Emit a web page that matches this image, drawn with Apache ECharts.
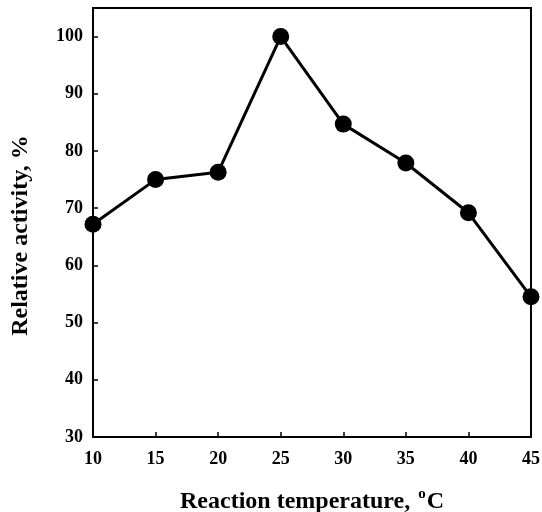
<!DOCTYPE html>
<html>
<head>
<meta charset="utf-8">
<script src="https://cdn.jsdelivr.net/npm/echarts@6/dist/echarts.min.js"></script>
<style>
  html, body { margin: 0; padding: 0; background: #fff; }
  #chart { width: 542px; height: 512px; }
</style>
</head>
<body>
<div id="chart"></div>
<script>
  // reaction temperature (°C) and relative activity (%)
  const temps = [10, 15, 20, 25, 30, 35, 40, 45]
  const activity = [67.2, 75.0, 76.3, 100, 84.7, 77.9, 69.2, 54.5]

  const font = 'Liberation Serif'
  const mychart = echarts.init(document.getElementById('chart'))

  mychart.setOption({
    animation: false,
    grid: {
      left: 93,
      right: 11,
      top: 8,
      bottom: 75,
      outerBoundsMode: 'none',
      containLabel: false,
      show: true,
      borderColor: '#000',
      borderWidth: 2
    },
    xAxis: {
      type: 'value',
      min: 10,
      max: 45,
      interval: 5,
      name: 'Reaction temperature, {sup|o}C',
      nameLocation: 'middle',
      nameGap: 50,
      nameTextStyle: {
        fontFamily: font,
        fontWeight: 'bold',
        fontSize: 24,
        color: '#000',
        rich: {
          sup: { fontFamily: font, fontWeight: 'bold', fontSize: 15, verticalAlign: 'top', padding: [0, 1, 14, 2] }
        }
      },
      axisLine: { lineStyle: { color: '#000', width: 2 } },
      axisTick: { inside: true, length: 5, lineStyle: { color: '#000', width: 1.5 } },
      axisLabel: { fontFamily: font, fontWeight: 'bold', fontSize: 18, color: '#000', margin: 13 },
      splitLine: { show: false }
    },
    yAxis: {
      type: 'value',
      min: 30,
      max: 105,
      interval: 10,
      name: 'Relative activity, %',
      nameLocation: 'middle',
      nameGap: 60,
      nameTextStyle: { fontFamily: font, fontWeight: 'bold', fontSize: 24, color: '#000', padding: [0, 26, 0, 0] },
      axisLine: { lineStyle: { color: '#000', width: 2 } },
      axisTick: { inside: true, length: 5, lineStyle: { color: '#000', width: 1.5 } },
      axisLabel: { fontFamily: font, fontWeight: 'bold', fontSize: 18, color: '#000', margin: 10, showMaxLabel: false },
      splitLine: { show: false }
    },
    series: [{
      type: 'line',
      data: temps.map((t, i) => [t, activity[i]]),
      symbol: 'circle',
      symbolSize: 17,
      itemStyle: { color: '#000' },
      lineStyle: { color: '#000', width: 3 }
    }]
  })
</script>
</body>
</html>
